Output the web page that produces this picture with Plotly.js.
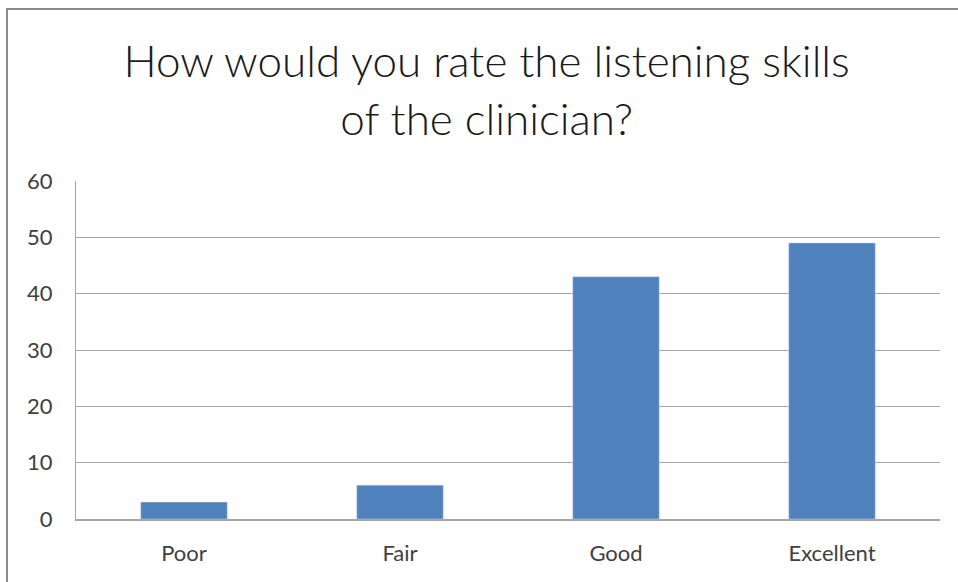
<!DOCTYPE html>
<html>
<head>
<meta charset="utf-8">
<script src="https://cdn.plot.ly/plotly-3.0.1.min.js"></script>
<style>
  html, body { margin: 0; padding: 0; background: #fff; }
  #wrap { position: relative; width: 958px; height: 582px; }
  #chart { width: 958px; height: 582px; }
  #frame {
    position: absolute; left: 6px; top: 8px; width: 980px; height: 600px;
    border-left: 2px solid #8c8c8c; border-top: 2px solid #8c8c8c;
    pointer-events: none;
  }
</style>
</head>
<body>
<div id="wrap">
  <div id="chart"></div>
  <div id="frame"></div>
</div>
<script>
// Survey responses: listening skills rating
const categories = ["Poor", "Fair", "Good", "Excellent"];
const counts = [3, 6, 43, 49];
const yTicks = [0, 10, 20, 30, 40, 50, 60];

const font = "Lato, 'Open Sans', 'Noto Sans', sans-serif";

const trace = {
  type: "bar",
  x: categories,
  y: counts,
  marker: { color: "#4f81bd", line: { color: "#c6d5ea", width: 0.5 } },
  hoverinfo: "x+y"
};

const layout = {
  width: 958,
  height: 582,
  margin: { l: 76, r: 18, t: 181, b: 63 },
  paper_bgcolor: "#ffffff",
  plot_bgcolor: "#ffffff",
  showlegend: false,
  bargap: 0.6,
  title: {
    text: "How would you rate the listening skills<br>of the clinician?",
    font: { family: font, size: 44, color: "#1a1a1a", weight: 300 },
    x: 0.508, xanchor: "center",
    y: 0.867, yanchor: "middle"
  },
  xaxis: {
    type: "category",
    showgrid: false,
    showline: true,
    linecolor: "#a6a6a6",
    linewidth: 1.5,
    ticks: "",
    ticklabelstandoff: 14,
    tickfont: { family: font, size: 22, color: "#404040" }
  },
  yaxis: {
    range: [0, 60],
    tickvals: yTicks,
    showgrid: true,
    gridcolor: "#a6a6a6",
    gridwidth: 1,
    showline: true,
    linecolor: "#a6a6a6",
    linewidth: 1,
    zeroline: false,
    ticks: "",
    ticklabelstandoff: 18,
    tickfont: { family: font, size: 22, color: "#404040" }
  }
};

Plotly.newPlot("chart", [trace], layout, { displayModeBar: false, staticPlot: true });
</script>
</body>
</html>
